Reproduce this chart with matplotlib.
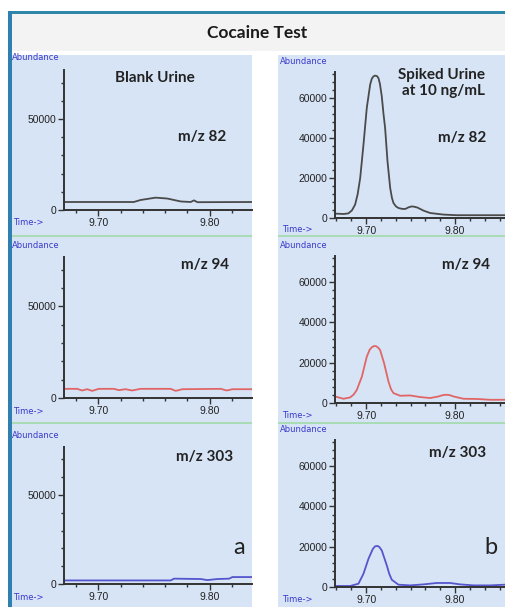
import matplotlib.pyplot as plt
from matplotlib.patches import Rectangle
from matplotlib.ticker import MultipleLocator

W, H = 506, 607

# blank urine (column a)
blank_t_82 = [9.6690, 9.7318, 9.7378, 9.7514, 9.7619, 9.7739, 9.7829, 9.7859, 9.7889, 9.8385]
blank_82 = [4400, 4400, 5500, 6800, 6300, 4700, 4400, 5300, 4300, 4400]

blank_t_94 = [9.6690, 9.6808, 9.6853, 9.6898, 9.6943, 9.7003, 9.7138, 9.7183, 9.7243, 9.7303,
              9.7378, 9.7649, 9.7694, 9.7754, 9.8099, 9.8153, 9.8204, 9.8385]
blank_94 = [5000, 5000, 4100, 4800, 3900, 5000, 5000, 4300, 4800, 4100,
            5000, 5000, 3900, 4800, 5000, 4100, 4800, 4800]

blank_t_303 = [9.6690, 9.7649, 9.7679, 9.7919, 9.7979, 9.8069, 9.8174, 9.8204, 9.8385]
blank_303 = [2000, 2000, 3000, 2800, 2200, 2800, 3000, 3900, 3900]

# spiked urine at 10 ng/mL (column b)
spiked_t_82 = [9.6650, 9.6745, 9.6800, 9.6840, 9.6876, 9.6905, 9.6933, 9.6970, 9.7007, 9.7045,
               9.7064, 9.7082, 9.7100, 9.7120, 9.7138, 9.7155, 9.7175, 9.7195, 9.7213, 9.7240,
               9.7270, 9.7290, 9.7307, 9.7335, 9.7363, 9.7400, 9.7438, 9.7480, 9.7513, 9.7545,
               9.7577, 9.7644, 9.7719, 9.7869, 9.8019, 9.8206, 9.8393, 9.8560]
spiked_82 = [2200, 2000, 2300, 3800, 6700, 12000, 20000, 36700, 55000, 66700,
             69700, 70800, 71200, 71000, 70000, 67000, 61000, 52000, 45000, 28300,
             15000, 10000, 7500, 5800, 5000, 4600, 4500, 5400, 5800, 5600,
             5200, 3700, 2500, 1700, 1400, 1400, 1400, 1400]

spiked_t_94 = [9.6650, 9.6745, 9.6820, 9.6860, 9.6895, 9.6952, 9.7007, 9.7040, 9.7064, 9.7090,
               9.7112, 9.7135, 9.7157, 9.7202, 9.7251, 9.7280, 9.7307, 9.7382, 9.7494, 9.7607,
               9.7719, 9.7813, 9.7860, 9.7899, 9.7940, 9.7981, 9.8094, 9.8243, 9.8393, 9.8560]
spiked_94 = [3250, 2100, 2760, 4200, 6500, 13100, 23000, 26500, 27700, 28300,
             28200, 27500, 26300, 19700, 10600, 6800, 4900, 3600, 3750, 2950,
             2460, 3250, 3900, 4100, 3900, 3250, 2100, 2000, 1600, 1600]

spiked_t_303 = [9.6650, 9.6820, 9.6914, 9.6970, 9.7026, 9.7075, 9.7100, 9.7127, 9.7150, 9.7176,
                9.7232, 9.7260, 9.7288, 9.7363, 9.7494, 9.7644, 9.7794, 9.7944, 9.8056, 9.8206,
                9.8393, 9.8560]
spiked_303 = [500, 500, 1650, 6600, 14000, 18900, 20200, 20400, 19800, 18100,
              10700, 6500, 3600, 1150, 800, 1300, 2000, 2000, 1300, 800,
              800, 1150]

ions = ['m/z 82', 'm/z 94', 'm/z 303']
trace_colors = ['#4a4a4a', '#e06666', '#5555cc']
blank = [(blank_t_82, blank_82), (blank_t_94, blank_94), (blank_t_303, blank_303)]
spiked = [(spiked_t_82, spiked_82), (spiked_t_94, spiked_94), (spiked_t_303, spiked_303)]

panel_bg = '#d7e4f6'
label_blue = '#3a3acc'
bold_font = 'Lato'

fig = plt.figure(figsize=(W / 100, H / 100), dpi=100)


def fx(x):
    return x / W


def fy(y):
    return 1 - y / H


def box(x0, y0, x1, y1, **kw):
    fig.add_artist(Rectangle((fx(x0), fy(y1)), (x1 - x0) / W, (y1 - y0) / H,
                             transform=fig.transFigure, zorder=-10, **kw))


def txt(x, y, s, **kw):
    fig.text(fx(x), fy(y), s, ha=kw.pop('ha', 'center'), va=kw.pop('va', 'center'), **kw)


# frame, title bar and column backgrounds
box(12, 14, 506, 51, facecolor='#f3f3f3', edgecolor='none')
box(8, 11, 506, 14, facecolor='#2f86a8', edgecolor='none')
box(8, 11, 12, 607, facecolor='#2f7fb0', edgecolor='none')
box(12, 55, 252, 607, facecolor=panel_bg, edgecolor='none')
box(278, 55, 506, 607, facecolor=panel_bg, edgecolor='none')
for ysep in (236, 423):
    box(12, ysep - 0.8, 252, ysep + 0.8, facecolor='#a9dcb4', edgecolor='none')
    box(278, ysep - 0.8, 506, ysep + 0.8, facecolor='#a9dcb4', edgecolor='none')

txt(257, 33, 'Cocaine Test', fontsize=12.5, fontweight='bold', family=bold_font, color='#1a1a1a')

left_rows = [(70, 210), (257, 398), (447, 584)]
right_rows = [(72, 218), (256, 403), (440, 587)]


def style(ax, xlim, ylim, yticks, yminor, xminor):
    ax.set_facecolor('none')
    ax.set_xlim(*xlim)
    ax.set_ylim(*ylim)
    for side in ('top', 'right'):
        ax.spines[side].set_visible(False)
    for side in ('left', 'bottom'):
        ax.spines[side].set_linewidth(1.4)
        ax.spines[side].set_color('#333333')
    ax.set_yticks(yticks)
    ax.set_yticklabels([str(v) for v in yticks])
    ax.set_xticks([9.70, 9.80])
    ax.set_xticklabels(['9.70', '9.80'])
    ax.yaxis.set_minor_locator(MultipleLocator(yminor))
    ax.xaxis.set_minor_locator(MultipleLocator(xminor))
    ax.tick_params(which='major', length=4, width=1, color='#333333', labelsize=7.5,
                   labelcolor='#222222', pad=1.5)
    ax.tick_params(which='minor', length=2, width=1, color='#333333')
    for lab in ax.get_xticklabels() + ax.get_yticklabels():
        lab.set_family('Liberation Sans')


for i in range(3):
    # column a
    top, bot = left_rows[i]
    ax = fig.add_axes([fx(64), fy(bot), (252 - 64) / W, (bot - top) / H])
    t, v = blank[i]
    ax.plot(t, v, color=trace_colors[i], lw=1.3)
    style(ax, (9.669, 9.838), (0, 77000), [0, 50000], 10000, 0.02)
    txt(12, top - 12, 'Abundance', ha='left', fontsize=6, color=label_blue)
    txt(13, bot + 13, 'Time->', ha='left', fontsize=6, color=label_blue)

    # column b
    top, bot = right_rows[i]
    ax = fig.add_axes([fx(335), fy(bot), (505 - 335) / W, (bot - top) / H])
    t, v = spiked[i]
    ax.plot(t, v, color=trace_colors[i], lw=1.3)
    style(ax, (9.665, 9.856), (0, 73000), [0, 20000, 40000, 60000], 4000, 1 / 60)
    txt(280, top - 10, 'Abundance', ha='left', fontsize=6, color=label_blue)
    txt(282, bot + 12, 'Time->', ha='left', fontsize=6, color=label_blue)

# annotations
ann = dict(fontsize=11, fontweight='bold', family=bold_font, color='#222222')
txt(155, 78, 'Blank Urine', **ann)
txt(442, 75, 'Spiked Urine', **ann)
txt(443, 91, 'at 10 ng/mL', **ann)
txt(202, 137, ions[0], **ann)
txt(462, 138, ions[0], **ann)
txt(205, 265, ions[1], **ann)
txt(466, 265, ions[1], **ann)
txt(205, 457, ions[2], **ann)
txt(458, 453, ions[2], **ann)
txt(239, 548, 'a', fontsize=17, family=bold_font, color='#222222')
txt(491, 548, 'b', fontsize=17, family=bold_font, color='#222222')

fig.savefig('out.png', dpi=100)
